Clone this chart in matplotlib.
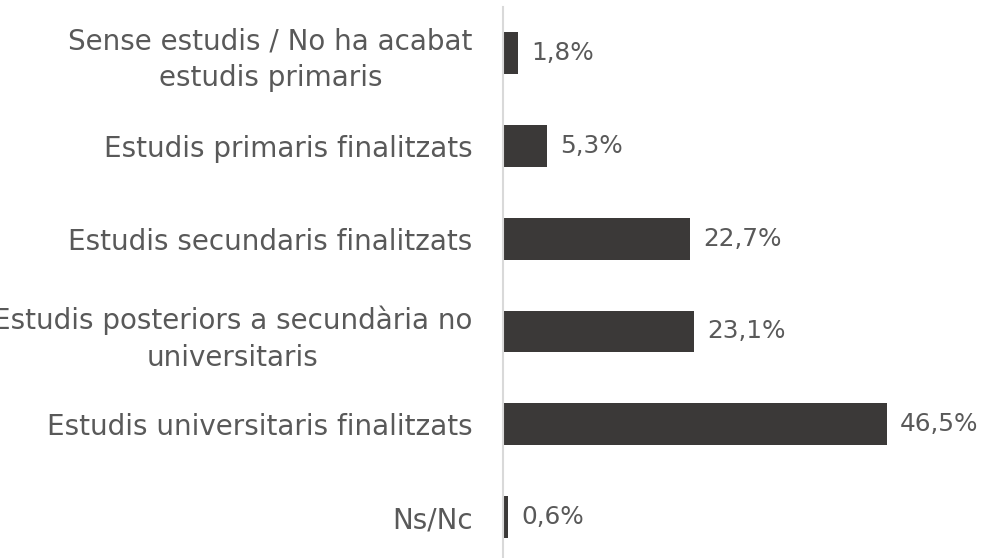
import numpy as np
import matplotlib.pyplot as plt

categories = ["Sense estudis / No ha acabat\nestudis primaris",
              "Estudis primaris finalitzats",
              "Estudis secundaris finalitzats",
              "Estudis posteriors a secundària no\nuniversitaris",
              "Estudis universitaris finalitzats",
              "Ns/Nc"]
values = [1.8, 5.3, 22.7, 23.1, 46.5, 0.6]
value_labels = ["1,8%", "5,3%", "22,7%", "23,1%", "46,5%", "0,6%"]

plt.rcParams['font.family'] = ['DejaVu Sans']
text_color = '#595959'
bar_color = '#3b3938'

fig = plt.figure(figsize=(9.86, 5.58), dpi=100)
ax = fig.add_axes([503/986, -0.01, 483/986, 557/558])

y = np.arange(len(categories))
ax.barh(y, values, height=0.45, color=bar_color)
ax.set_ylim(len(categories) - 0.5, -0.5)
ax.set_xlim(0, 58.5)

for yi, v, lab in zip(y, values, value_labels):
    ax.annotate(lab, (v, yi), xytext=(9.5, 0), textcoords='offset points',
                ha='left', va='center', fontsize=17.8, color=text_color)

ax.set_yticks(y)
ax.set_yticklabels(categories, fontsize=20, color=text_color, linespacing=1.38)
for lbl in ax.get_yticklabels():
    lbl.set_multialignment('center')
ax.tick_params(axis='y', length=0, pad=22)
ax.set_xticks([])

for s in ['top', 'right', 'bottom']:
    ax.spines[s].set_visible(False)
ax.spines['left'].set_color('#d9d9d9')
ax.spines['left'].set_linewidth(1.5)

fig.savefig('out.png', dpi=100)
